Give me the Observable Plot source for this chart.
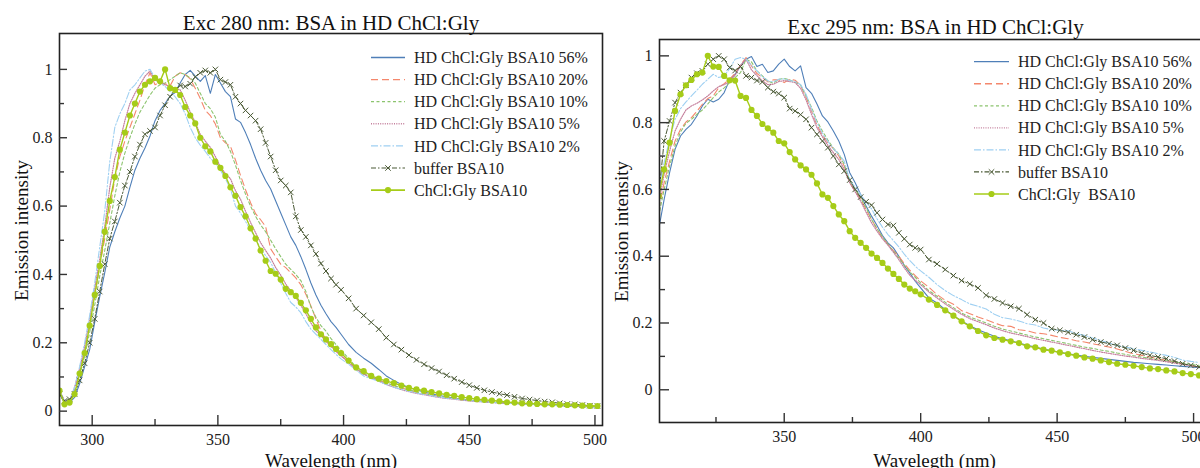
<!DOCTYPE html>
<html><head><meta charset="utf-8">
<script src="https://cdn.jsdelivr.net/npm/d3@7"></script>
<script src="https://cdn.jsdelivr.net/npm/@observablehq/plot@0.6"></script>
<style>
html,body{margin:0;padding:0;background:#fff;}
#wrap{position:relative;width:1200px;height:468px;overflow:hidden;background:#fff;}
#wrap > svg{position:absolute;top:0;}
</style></head><body><div id="wrap"></div>
<script>
// ---------- LEFT: Exc 280 nm ----------
const wlL = [287,289,291,293,295,297,299,301,303,305,
307,309,311,313,315,317,319,321,323,325,
327,329,331,333,335,337,339,341,343,345,
347,349,351,353,355,357,359,361,363,365,
367,369,371,373,375,377,379,381,383,385,
387,389,391,393,395,397,399,
402,405,408,411,414,417,420,423,426,429,
432,435,438,441,444,447,450,453,456,459,
462,465,468,471,474,477,480,483,486,489,
492,495,498,501];
const L56 = [0.05,0.025,0.025,0.04,0.08,0.13,0.18,0.26,0.335,0.405,
0.48,0.525,0.565,0.6,0.655,0.705,0.74,0.77,0.805,0.85,
0.88,0.9,0.922,0.932,0.96,0.985,0.997,0.98,0.965,0.982,
0.93,0.985,0.96,0.935,0.92,0.855,0.845,0.815,0.78,0.74,
0.705,0.675,0.65,0.615,0.58,0.545,0.51,0.485,0.452,0.415,
0.375,0.34,0.31,0.285,0.262,0.245,0.225,
0.195,0.172,0.155,0.14,0.122,0.103,0.09,0.078,0.069,0.062,
0.056,0.051,0.046,0.042,0.038,0.035,0.032,0.03,0.028,0.026,
0.025,0.024,0.023,0.022,0.021,0.02,0.019,0.018,0.017,0.016,
0.015,0.014,0.013,0.012];
const L20 = [0.06,0.03,0.03,0.065,0.115,0.175,0.25,0.335,0.425,0.505,
0.59,0.68,0.745,0.79,0.83,0.87,0.91,0.955,0.99,0.955,
0.963,0.958,0.952,0.98,0.99,0.985,0.972,0.945,0.915,0.88,
0.865,0.84,0.8,0.785,0.775,0.735,0.69,0.648,0.61,0.578,
0.56,0.54,0.475,0.452,0.43,0.42,0.405,0.39,0.37,0.342,
0.308,0.27,0.235,0.21,0.19,0.175,0.163,
0.144,0.124,0.109,0.1,0.091,0.083,0.075,0.068,0.062,0.056,
0.052,0.047,0.043,0.04,0.037,0.034,0.032,0.03,0.028,0.026,
0.025,0.024,0.023,0.022,0.021,0.02,0.019,0.018,0.017,0.016,
0.015,0.015,0.014,0.013];
const L10 = [0.06,0.03,0.03,0.06,0.105,0.16,0.23,0.31,0.395,0.47,
0.55,0.63,0.7,0.755,0.8,0.84,0.875,0.9,0.925,0.945,
0.955,0.96,0.97,0.98,0.99,0.985,0.975,0.96,0.93,0.9,
0.885,0.86,0.81,0.79,0.76,0.72,0.675,0.635,0.6,0.57,
0.545,0.525,0.5,0.475,0.452,0.43,0.415,0.4,0.382,0.35,
0.305,0.275,0.25,0.234,0.212,0.195,0.178,
0.155,0.128,0.11,0.1,0.091,0.083,0.075,0.068,0.062,0.056,
0.051,0.047,0.043,0.04,0.037,0.034,0.032,0.03,0.028,0.026,
0.025,0.024,0.023,0.022,0.021,0.02,0.019,0.018,0.017,0.016,
0.015,0.015,0.014,0.013];
const L5 = [0.06,0.03,0.03,0.07,0.125,0.19,0.27,0.36,0.445,0.54,
0.655,0.74,0.79,0.85,0.9,0.93,0.955,0.98,0.995,0.97,
0.96,0.955,0.95,0.945,0.94,0.91,0.875,0.845,0.81,0.79,
0.772,0.745,0.715,0.695,0.68,0.645,0.62,0.585,0.552,0.522,
0.493,0.47,0.448,0.42,0.398,0.372,0.352,0.333,0.31,0.285,
0.258,0.235,0.222,0.204,0.19,0.175,0.162,
0.142,0.123,0.108,0.098,0.088,0.078,0.07,0.063,0.057,0.052,
0.048,0.044,0.04,0.037,0.035,0.032,0.03,0.028,0.027,0.025,
0.024,0.023,0.022,0.021,0.02,0.019,0.018,0.017,0.016,0.015,
0.015,0.014,0.013,0.013];
const L2 = [0.06,0.03,0.03,0.07,0.13,0.2,0.28,0.375,0.48,0.585,
0.73,0.83,0.87,0.9,0.94,0.955,0.975,0.995,1.0,0.975,
0.96,0.95,0.935,0.92,0.9,0.87,0.83,0.8,0.778,0.76,
0.74,0.725,0.705,0.68,0.65,0.6,0.58,0.555,0.53,0.505,
0.475,0.455,0.435,0.405,0.375,0.345,0.318,0.305,0.288,0.262,
0.24,0.225,0.21,0.195,0.18,0.166,0.153,
0.137,0.12,0.103,0.095,0.087,0.078,0.07,0.064,0.058,0.053,
0.049,0.045,0.041,0.038,0.036,0.033,0.031,0.029,0.027,0.026,
0.024,0.023,0.022,0.021,0.02,0.019,0.018,0.017,0.016,0.015,
0.015,0.014,0.013,0.013];
const LBuf = [0.05,0.03,0.035,0.05,0.09,0.14,0.2,0.27,0.35,0.43,
0.505,0.555,0.61,0.66,0.7,0.745,0.78,0.81,0.82,0.83,
0.865,0.895,0.92,0.94,0.953,0.95,0.958,0.978,0.99,0.997,
0.99,1.0,0.97,0.963,0.955,0.92,0.9,0.88,0.865,0.85,
0.825,0.785,0.745,0.705,0.675,0.66,0.64,0.57,0.53,0.51,
0.485,0.46,0.432,0.41,0.388,0.37,0.355,
0.33,0.3,0.28,0.26,0.24,0.215,0.195,0.18,0.164,0.15,
0.137,0.126,0.116,0.105,0.095,0.085,0.076,0.068,0.061,0.056,
0.051,0.047,0.042,0.037,0.034,0.031,0.028,0.026,0.023,0.021,
0.02,0.018,0.016,0.015];
const LChG = [0.06,0.02,0.025,0.05,0.11,0.17,0.25,0.34,0.425,0.525,
0.615,0.685,0.765,0.815,0.865,0.9,0.935,0.955,0.965,0.975,
0.965,1.0,0.945,0.94,0.925,0.89,0.865,0.842,0.8,0.775,
0.76,0.73,0.712,0.688,0.655,0.63,0.597,0.57,0.535,0.505,
0.47,0.44,0.41,0.402,0.385,0.358,0.348,0.337,0.317,0.295,
0.27,0.245,0.225,0.21,0.196,0.182,0.17,
0.148,0.128,0.117,0.103,0.095,0.088,0.082,0.075,0.068,0.064,
0.06,0.056,0.052,0.048,0.045,0.041,0.038,0.035,0.033,0.031,
0.029,0.026,0.025,0.023,0.022,0.021,0.02,0.02,0.019,0.018,
0.017,0.016,0.015,0.015];

// ---------- RIGHT: Exc 295 nm ----------
const wlR = [304,306,308,310,312,314,316,318,320,322,
324,326,328,330,332,334,336,338,340,342,
344,346,348,350,352,354,356,358,360,362,
364,366,368,370,372,374,376,378,380,382,
384,386,388,390,392,394,396,398,400,
403,406,409,412,415,418,421,424,427,430,
433,436,439,442,445,448,451,454,457,460,
463,466,469,472,475,478,481,484,487,490,
493,496,499,502];
const R56 = [0.48,0.57,0.65,0.72,0.76,0.78,0.795,0.82,0.85,0.87,
0.862,0.87,0.89,0.928,0.945,0.97,0.99,0.998,0.968,0.975,
0.95,0.955,0.975,0.99,0.968,0.955,0.97,0.905,0.888,0.856,
0.82,0.802,0.775,0.745,0.705,0.65,0.62,0.585,0.55,0.52,
0.492,0.462,0.44,0.425,0.4,0.372,0.35,0.325,0.305,
0.275,0.26,0.24,0.222,0.206,0.192,0.18,0.17,0.16,0.153,
0.147,0.14,0.133,0.128,0.122,0.117,0.112,0.108,0.104,0.1,
0.097,0.094,0.091,0.088,0.085,0.082,0.08,0.078,0.076,0.074,
0.072,0.07,0.068,0.066];
const R20 = [0.54,0.62,0.685,0.745,0.78,0.802,0.815,0.834,0.855,0.872,
0.88,0.905,0.917,0.93,0.948,0.972,0.995,0.97,0.947,0.935,
0.922,0.928,0.928,0.92,0.93,0.927,0.912,0.876,0.835,0.793,
0.763,0.74,0.722,0.7,0.67,0.62,0.595,0.57,0.54,0.51,
0.482,0.456,0.436,0.417,0.4,0.378,0.358,0.342,0.326,
0.307,0.285,0.268,0.256,0.237,0.228,0.218,0.21,0.2,0.192,
0.19,0.18,0.177,0.17,0.168,0.163,0.157,0.153,0.147,0.143,
0.138,0.133,0.128,0.122,0.115,0.108,0.103,0.098,0.093,0.088,
0.083,0.078,0.073,0.068];
const R10 = [0.52,0.6,0.67,0.73,0.772,0.798,0.81,0.825,0.838,0.856,
0.875,0.892,0.904,0.92,0.935,0.95,0.99,0.982,0.955,0.94,
0.925,0.918,0.93,0.932,0.928,0.921,0.913,0.88,0.846,0.805,
0.775,0.748,0.724,0.706,0.675,0.625,0.6,0.575,0.545,0.51,
0.482,0.458,0.436,0.415,0.395,0.373,0.353,0.337,0.32,
0.297,0.28,0.262,0.246,0.23,0.218,0.209,0.2,0.19,0.182,
0.176,0.17,0.164,0.158,0.153,0.148,0.143,0.138,0.133,0.128,
0.124,0.119,0.115,0.11,0.106,0.102,0.098,0.094,0.09,0.087,
0.083,0.08,0.076,0.073];
const R5 = [0.56,0.645,0.715,0.775,0.81,0.838,0.85,0.858,0.868,0.88,
0.895,0.908,0.914,0.922,0.942,0.972,0.99,0.958,0.941,0.925,
0.914,0.915,0.923,0.926,0.923,0.92,0.903,0.868,0.825,0.785,
0.758,0.732,0.71,0.69,0.66,0.62,0.593,0.565,0.532,0.5,
0.475,0.452,0.433,0.412,0.39,0.365,0.343,0.328,0.315,
0.293,0.275,0.257,0.241,0.226,0.213,0.204,0.195,0.185,0.177,
0.17,0.165,0.159,0.153,0.148,0.143,0.138,0.133,0.128,0.123,
0.118,0.113,0.109,0.105,0.101,0.098,0.094,0.091,0.088,0.084,
0.08,0.076,0.072,0.068];
const R2 = [0.6,0.68,0.75,0.81,0.842,0.862,0.88,0.897,0.915,0.93,
0.945,0.935,0.94,0.962,0.99,0.995,0.99,0.972,0.955,0.938,
0.925,0.922,0.93,0.931,0.926,0.923,0.914,0.885,0.84,0.8,
0.768,0.744,0.722,0.705,0.685,0.628,0.607,0.585,0.562,0.542,
0.512,0.487,0.465,0.447,0.428,0.406,0.387,0.37,0.356,
0.337,0.315,0.297,0.282,0.27,0.257,0.25,0.242,0.226,0.216,
0.212,0.206,0.198,0.194,0.185,0.18,0.178,0.177,0.168,0.163,
0.155,0.148,0.14,0.133,0.128,0.123,0.118,0.113,0.108,0.103,
0.097,0.089,0.085,0.082];
const RBuf = [0.58,0.745,0.805,0.86,0.89,0.912,0.935,0.948,0.955,0.975,
0.99,1.0,0.99,0.965,0.956,0.968,0.94,0.935,0.926,0.922,
0.905,0.893,0.887,0.875,0.842,0.835,0.824,0.81,0.785,0.765,
0.745,0.725,0.7,0.675,0.655,0.628,0.6,0.577,0.563,0.553,
0.53,0.51,0.495,0.492,0.47,0.452,0.435,0.425,0.42,
0.39,0.377,0.36,0.342,0.327,0.317,0.305,0.283,0.272,0.26,
0.25,0.243,0.225,0.21,0.2,0.183,0.178,0.172,0.165,0.158,
0.15,0.143,0.138,0.133,0.125,0.118,0.11,0.103,0.098,0.093,
0.086,0.078,0.073,0.068];
const RChG = [0.58,0.66,0.74,0.835,0.885,0.912,0.928,0.945,0.95,1.0,
0.968,0.967,0.94,0.927,0.926,0.88,0.874,0.838,0.82,0.796,
0.783,0.77,0.745,0.738,0.712,0.69,0.672,0.66,0.644,0.618,
0.585,0.575,0.55,0.525,0.505,0.475,0.455,0.44,0.425,0.408,
0.395,0.38,0.363,0.347,0.332,0.315,0.303,0.295,0.286,
0.27,0.254,0.238,0.222,0.205,0.19,0.176,0.163,0.155,0.15,
0.145,0.14,0.13,0.127,0.12,0.117,0.112,0.107,0.102,0.097,
0.093,0.088,0.083,0.078,0.075,0.072,0.068,0.064,0.062,0.058,
0.055,0.05,0.047,0.043];

// ---------- labels & ticks ----------
const namesL = ["HD ChCl:Gly BSA10 56%","HD ChCl:Gly BSA10 20%","HD ChCl:Gly BSA10 10%","HD ChCl:Gly BSA10 5%","HD ChCl:Gly BSA10 2%","buffer BSA10","ChCl:Gly BSA10"];
const namesR = ["HD ChCl:Gly BSA10 56%","HD ChCl:Gly BSA10 20%","HD ChCl:Gly BSA10 10%","HD ChCl:Gly BSA10 5%","HD ChCl:Gly BSA10 2%","buffer BSA10","ChCl:Gly  BSA10"];
const titleL = "Exc 280 nm: BSA in HD ChCl:Gly";
const titleR = "Exc 295 nm: BSA in HD ChCl:Gly";
const xLabelL = "Wavelength (nm)";
const xLabelR = "Wavelegth (nm)";
const yLabel = "Emission intensity";
const xMajorL = [300,350,400,450,500];
const xMajorR = [350,400,450,500];
const xMinor = [325,375,425,475];
const yMajor = [0,0.2,0.4,0.6,0.8,1];
const yMinor = [0.1,0.3,0.5,0.7,0.9];

// ---------- styles ----------
const FONT = "'Liberation Serif','Times New Roman',serif";
const styles = [
  {color:"#4f7fb8", dash:undefined, width:1.1},
  {color:"#f4876c", dash:"7,4", width:1.1},
  {color:"#8cc46e", dash:"3,2.5", width:1.1},
  {color:"#c47f9c", dash:"1,1.3", width:1.2},
  {color:"#9fd0f2", dash:"7,2,1.5,2", width:1.1},
  {color:"#4b5a36", dash:"5,2,1.5,2", width:1, marker:"times"},
  {color:"#a6cc18", dash:undefined, width:1.4, marker:"dot"}
];

function chart(o) {
  const marks = [];
  o.series.forEach((vals, i) => {
    const s = styles[i];
    const data = o.wl.map((x, j) => ({x, y: vals[j]}));
    marks.push(Plot.line(data, {x:"x", y:"y", stroke:s.color, strokeWidth:s.width, strokeDasharray:s.dash, clip:true}));
    if (s.marker === "dot") marks.push(Plot.dot(data, {x:"x", y:"y", r:3.1, fill:s.color, clip:true}));
    if (s.marker === "times") marks.push(Plot.dot(data, {x:"x", y:"y", r:2.6, symbol:"times", stroke:s.color, strokeWidth:1, clip:true}));
  });
  marks.push(Plot.frame({stroke:"#222", strokeWidth:1.6}));
  const tk = {stroke:"#333", strokeWidth:1.4, tickFormat:() => "", label:null};
  marks.push(Plot.axisY(yMajor, {...tk, anchor:"left", tickSize:o.ty, dx:o.ty}));
  marks.push(Plot.axisY(yMinor, {...tk, anchor:"left", tickSize:o.ty2, dx:o.ty2}));
  marks.push(Plot.axisX(o.xMajor, {...tk, anchor:"bottom", tickSize:o.tx, dy:-o.tx}));
  marks.push(Plot.axisX(xMinor, {...tk, anchor:"bottom", tickSize:o.tx2, dy:-o.tx2}));
  const lab = {tickSize:0, label:null, fontSize:16, fontFamily:FONT, fill:"#222", tickFormat:d => String(d)};
  marks.push(Plot.axisY(yMajor, {...lab, anchor:"left", tickPadding:7}));
  marks.push(Plot.axisX(o.xMajor, {...lab, anchor:"bottom", tickPadding:8}));
  marks.push(Plot.text([o.title], {text:d=>d, frameAnchor:"top", lineAnchor:"middle", textAnchor:"middle", dx:o.tdx, dy:o.tdy, fontSize:21, fontFamily:FONT, fill:"#111"}));
  marks.push(Plot.text([o.xLabel], {text:d=>d, frameAnchor:"bottom", lineAnchor:"middle", textAnchor:"middle", dx:o.xdx, dy:o.xdy, fontSize:19, fontFamily:FONT, fill:"#111"}));
  marks.push(Plot.text([yLabel], {text:d=>d, frameAnchor:"left", lineAnchor:"middle", textAnchor:"middle", rotate:-90, dx:-38, dy:o.ydy, fontSize:19, fontFamily:FONT, fill:"#111"}));
  return Plot.plot({
    width:o.width, height:468,
    marginLeft:59, marginRight:o.mR, marginTop:o.mT, marginBottom:o.mB,
    x:{domain:o.xDomain, label:null},
    y:{domain:o.yDomain, label:null},
    style:{background:"transparent", fontFamily:FONT, fontSize:"16px", color:"#222", overflow:"visible"},
    marks
  });
}

const wrap = document.getElementById("wrap");
const left = chart({wl:wlL, series:[L56,L20,L10,L5,L2,LBuf,LChG], width:604, mR:2, mT:33, mB:43,
  xDomain:[287,503], yDomain:[-0.042,1.105], xMajor:xMajorL, title:titleL, xLabel:xLabelL,
  tdx:0, tdy:-10, xdx:0, xdy:35, ydy:1, ty:8, ty2:5, tx:10, tx2:6});
left.style.left = "0px";
wrap.appendChild(left);
const right = chart({wl:wlR, series:[R56,R20,R10,R5,R2,RBuf,RChG], width:604, mR:0, mT:39, mB:46,
  xDomain:[304.3,504.0], yDomain:[-0.098,1.049], xMajor:xMajorR, title:titleR, xLabel:xLabelR,
  tdx:3.5, tdy:-12, xdx:2.5, xdy:38, ydy:0.5, ty:10, ty2:6, tx:9, tx2:5});
right.style.left = "600px";
wrap.appendChild(right);

// ---------- legends ----------
const leg = d3.select(wrap).append("svg").attr("width",1200).attr("height",468).style("left","0px");
function legend(names, x1, x2, tx, y0, step) {
  names.forEach((name, i) => {
    const s = styles[i], y = y0 + i * step;
    leg.append("line").attr("x1",x1).attr("x2",x2).attr("y1",y).attr("y2",y)
      .attr("stroke",s.color).attr("stroke-width",s.width + 0.2)
      .attr("stroke-dasharray", s.dash || null);
    const cx = (x1 + x2) / 2;
    if (s.marker === "dot") leg.append("circle").attr("cx",cx).attr("cy",y).attr("r",3.1).attr("fill",s.color);
    if (s.marker === "times") leg.append("path").attr("transform",`translate(${cx},${y})`)
      .attr("d", d3.symbol(d3.symbolTimes, Math.PI * 2.6 * 2.6)()).attr("fill","none").attr("stroke",s.color);
    leg.append("text").attr("x",tx).attr("y",y).attr("dy","0.35em")
      .attr("font-family",FONT).attr("font-size",16).attr("fill","#222")
      .style("white-space","pre").text(name);
  });
}
legend(namesL, 371, 405, 414, 57.5, 22.1);
legend(namesR, 974, 1009, 1018, 61.7, 22.05);
</script></body></html>
